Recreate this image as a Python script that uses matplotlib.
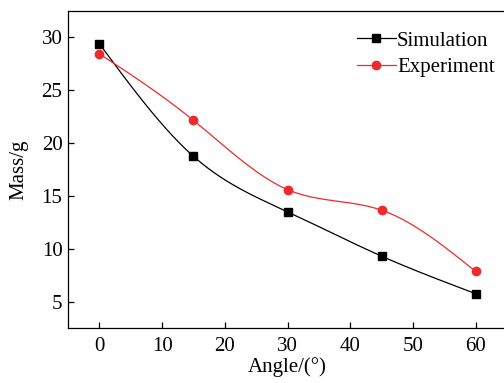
import numpy as np
import matplotlib
matplotlib.use("Agg")
import matplotlib.pyplot as plt

angles = [0, 15, 30, 45, 60]
simulation = [29.4, 18.75, 13.5, 9.3, 5.75]
experiment = [28.45, 22.15, 15.6, 13.65, 7.85]
xticks = [0, 10, 20, 30, 40, 50, 60]
yticks = [5, 10, 15, 20, 25, 30]

plt.rcParams['font.family'] = ['Liberation Serif', 'DejaVu Serif']
plt.rcParams['mathtext.fontset'] = 'stix'


def natural_spline(x, y, n=300):
    x = np.asarray(x, float)
    y = np.asarray(y, float)
    k = len(x)
    h = np.diff(x)
    A = np.zeros((k, k))
    b = np.zeros(k)
    A[0, 0] = 1
    A[-1, -1] = 1
    for i in range(1, k - 1):
        A[i, i - 1] = h[i - 1]
        A[i, i] = 2 * (h[i - 1] + h[i])
        A[i, i + 1] = h[i]
        b[i] = 6 * ((y[i + 1] - y[i]) / h[i] - (y[i] - y[i - 1]) / h[i - 1])
    M = np.linalg.solve(A, b)
    xs = np.linspace(x[0], x[-1], n)
    ys = np.empty_like(xs)
    for j, xv in enumerate(xs):
        i = min(np.searchsorted(x, xv, side='right') - 1, k - 2)
        t1 = x[i + 1] - xv
        t0 = xv - x[i]
        ys[j] = (M[i] * t1 ** 3 / (6 * h[i]) + M[i + 1] * t0 ** 3 / (6 * h[i])
                 + (y[i] / h[i] - M[i] * h[i] / 6) * t1
                 + (y[i + 1] / h[i] - M[i + 1] * h[i] / 6) * t0)
    return xs, ys


fig = plt.figure(figsize=(5.04, 3.83), dpi=100)
ax = fig.add_axes([68 / 504, 1 - 328 / 383, (507 - 68) / 504, (328 - 11) / 383])

black = '#000000'
red = '#ee2a2a'
FS = 15

xs, ys = natural_spline(angles, simulation)
ax.plot(xs, ys, color=black, lw=0.9)
ax.plot(angles, simulation, linestyle='none', marker='s', ms=5.3, color=black)
xs, ys = natural_spline(angles, experiment)
ax.plot(xs, ys, color=red, lw=0.9)
ax.plot(angles, experiment, linestyle='none', marker='o', ms=6, color=red)

# legend proxies
ax.plot([], [], color=black, lw=0.9, marker='s', ms=5.3, label='Simulation')
ax.plot([], [], color=red, lw=0.9, marker='o', ms=6, label='Experiment')
handles, labels = ax.get_legend_handles_labels()
ax.legend(handles, labels, loc='upper left',
          bbox_to_anchor=(357 / 504, 1 - 31 / 383), bbox_transform=fig.transFigure,
          frameon=False, fontsize=FS, handlelength=1.87, handletextpad=0.05,
          labelspacing=0.32, borderaxespad=0, borderpad=0)

ax.set_xlim(-5, 65)
ax.set_ylim(2.5, 32.5)
ax.set_xticks(xticks)
ax.set_yticks(yticks)
ax.tick_params(direction='in', length=4.5, width=0.9, labelsize=FS)
ax.tick_params(axis='x', pad=6.5)
ax.tick_params(axis='y', pad=4)
for s in ax.spines.values():
    s.set_linewidth(0.9)
ax.spines['right'].set_visible(False)

ax.set_xlabel('Angle/(°)', fontsize=FS, labelpad=0.8)
ax.set_ylabel('Mass/g', fontsize=FS, labelpad=9.5)

fig.savefig('out.png', dpi=100)
